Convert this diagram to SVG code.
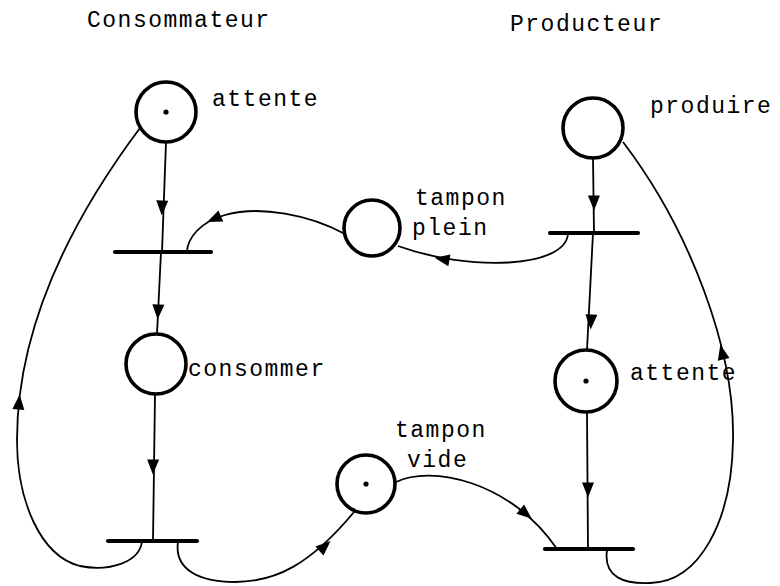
<svg xmlns="http://www.w3.org/2000/svg" xmlns:xlink="http://www.w3.org/1999/xlink" width="780" height="586" viewBox="0 0 780 586">
  <style>
    .place { fill: none; stroke: #000; stroke-width: 3.6; }
    .token { fill: #000; }
    .bar { stroke: #000; stroke-width: 4.2; stroke-linecap: round; }
    .arc { fill: none; stroke: #000; stroke-width: 1.8; }
    .head { fill: #000; }
    text { font-family: "Liberation Mono", "Courier New", monospace; font-size: 23px; letter-spacing: 1.5px; fill: #000; }
  </style>
  <defs>
    <!-- filled arrowhead, centred on the origin, pointing along +x -->
    <path id="arrow" d="M7.5,0 L-7.5,-6 L-7.5,6 Z"/>
  </defs>

  <rect width="780" height="586" fill="#fff"/>

  <!-- column titles -->
  <text x="87" y="27">Consommateur</text>
  <text x="510" y="31">Producteur</text>

  <!-- connectors (arcs of the net) -->
  <g id="arcs">
    <!-- consumer column -->
    <path class="arc" d="M166,142 L162,252"/>
    <path class="arc" d="M161,252 L157,334"/>
    <path class="arc" d="M155,394 L153,541"/>
    <!-- consumer loop back to attente -->
    <path class="arc" d="M142,541 C140,562 110,572 80,566 C40,556 17,500 17,440 C17,340 60,235 140,128"/>
    <!-- consumer releases tampon vide -->
    <path class="arc" d="M178,542 C174,570 200,582 235,582 C275,582 310,565 354,512"/>
    <!-- tampon plein feeds consumer -->
    <path class="arc" d="M345,234 C310,215 260,205 225,215 C200,222 188,238 187,251"/>
    <!-- producer column -->
    <path class="arc" d="M593,158 L594,233"/>
    <path class="arc" d="M593,233 L587,350"/>
    <path class="arc" d="M587,412 L588,549"/>
    <!-- producer fills tampon plein -->
    <path class="arc" d="M568,234 C565,268 470,272 398,246"/>
    <!-- tampon vide feeds producer -->
    <path class="arc" d="M396,482 C430,465 510,480 557,549"/>
    <!-- producer loop back to produire -->
    <path class="arc" d="M607,550 C603,578 625,584 650,583 C700,582 732,520 733,440 C735,350 690,230 623,142"/>

    <!-- arrowheads -->
    <use xlink:href="#arrow" class="head" transform="translate(162,208) rotate(92)"/>
    <use xlink:href="#arrow" class="head" transform="translate(158,312) rotate(93)"/>
    <use xlink:href="#arrow" class="head" transform="translate(153,467) rotate(91)"/>
    <use xlink:href="#arrow" class="head" transform="translate(19,402) rotate(-85)"/>
    <use xlink:href="#arrow" class="head" transform="translate(325,546) rotate(-42)"/>
    <use xlink:href="#arrow" class="head" transform="translate(214,219) rotate(156)"/>
    <use xlink:href="#arrow" class="head" transform="translate(594,203) rotate(89)"/>
    <use xlink:href="#arrow" class="head" transform="translate(591,322) rotate(93)"/>
    <use xlink:href="#arrow" class="head" transform="translate(588,490) rotate(90)"/>
    <use xlink:href="#arrow" class="head" transform="translate(442,259) rotate(190)"/>
    <use xlink:href="#arrow" class="head" transform="translate(526,514) rotate(40)"/>
    <use xlink:href="#arrow" class="head" transform="translate(722,352) rotate(-103)"/>
  </g>

  <!-- places -->
  <g id="p-attente-consommateur">
    <circle class="place" cx="166" cy="112" r="30"/>
    <circle class="token" cx="166" cy="112" r="2.6"/>
    <text x="212" y="106">attente</text>
  </g>
  <g id="p-consommer">
    <circle class="place" cx="156" cy="364" r="30"/>
    <text x="188" y="376">consommer</text>
  </g>
  <g id="p-tampon-plein">
    <circle class="place" cx="372" cy="228" r="28"/>
    <text x="415" y="205">tampon</text>
    <text x="412" y="235">plein</text>
  </g>
  <g id="p-tampon-vide">
    <circle class="place" cx="366" cy="484" r="29"/>
    <circle class="token" cx="366" cy="484" r="2.6"/>
    <text x="395" y="437">tampon</text>
    <text x="407" y="467">vide</text>
  </g>
  <g id="p-produire">
    <circle class="place" cx="593" cy="128" r="30"/>
    <text x="650" y="113">produire</text>
  </g>
  <g id="p-attente-producteur">
    <circle class="place" cx="586" cy="381" r="31"/>
    <circle class="token" cx="586" cy="381" r="2.6"/>
    <text x="630" y="380">attente</text>
  </g>

  <!-- transitions -->
  <g id="t-consommateur-1"><line class="bar" x1="115" y1="252" x2="211" y2="252"/></g>
  <g id="t-consommateur-2"><line class="bar" x1="108" y1="541" x2="197" y2="541"/></g>
  <g id="t-producteur-1"><line class="bar" x1="550" y1="233" x2="638" y2="233"/></g>
  <g id="t-producteur-2"><line class="bar" x1="545" y1="549" x2="633" y2="549"/></g>
</svg>
